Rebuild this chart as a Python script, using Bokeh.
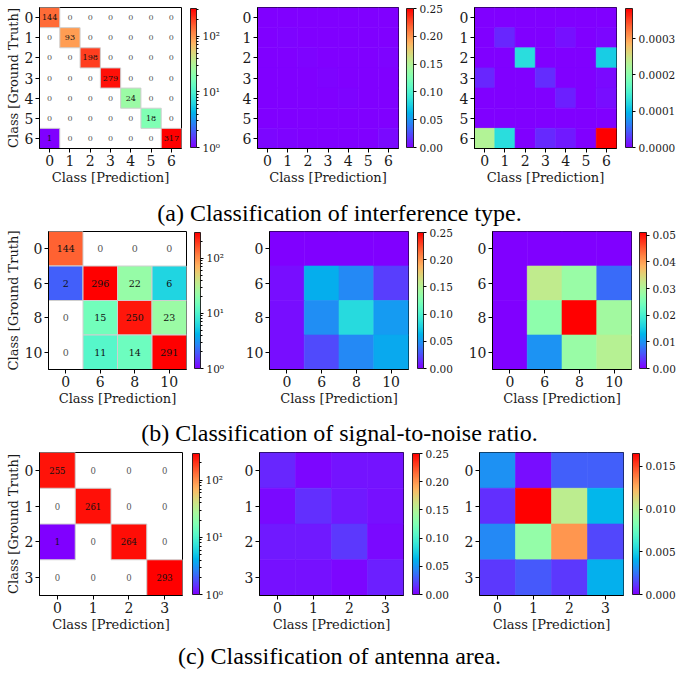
import math
from bokeh.plotting import figure
from bokeh.layouts import row, column
from bokeh.models import (FactorRange, ColumnDataSource, LinearColorMapper, LogColorMapper,
                          ColorBar, FixedTicker, PrintfTickFormatter, Range1d)
from bokeh.transform import transform
from bokeh.core.properties import value
from bokeh.embed import file_html
from bokeh.resources import INLINE

# ---------------- data ----------------
a_labels = ["0", "1", "2", "3", "4", "5", "6"]
a_counts = [
    [144, 0, 0, 0, 0, 0, 0],
    [0, 93, 0, 0, 0, 0, 0],
    [0, 0, 198, 0, 0, 0, 0],
    [0, 0, 0, 279, 0, 0, 0],
    [0, 0, 0, 0, 24, 0, 0],
    [0, 0, 0, 0, 0, 18, 0],
    [1, 0, 0, 0, 0, 0, 317],
]
a_mid = [
    [0.000, 0.000, 0.000, 0.000, 0.000, 0.000, 0.000],
    [0.000, 0.001, 0.000, 0.000, 0.000, 0.000, 0.000],
    [0.000, 0.000, 0.001, 0.000, 0.000, 0.000, 0.001],
    [0.000, 0.000, 0.000, 0.001, 0.000, 0.000, 0.000],
    [0.000, 0.000, 0.000, 0.000, 0.001, 0.000, 0.000],
    [0.000, 0.000, 0.000, 0.000, 0.000, 0.000, 0.000],
    [0.002, 0.001, 0.000, 0.000, 0.000, 0.000, 0.003],
]
a_right = [
    [0.0, 0.0, 0.0, 0.0, 0.0, 0.0, 0.0],
    [0.0, 0.18e-4, 0.0, 0.0, 0.08e-4, 0.0, 0.03e-4],
    [0.0, 0.0, 1.28e-4, 0.0, 0.0, 0.0, 1.15e-4],
    [0.18e-4, 0.0, 0.0, 0.22e-4, 0.0, 0.0, 0.05e-4],
    [0.0, 0.0, 0.0, 0.0, 0.15e-4, 0.0, 0.06e-4],
    [0.0, 0.0, 0.0, 0.0, 0.0, 0.0, 0.0],
    [2.30e-4, 1.28e-4, 0.0, 0.20e-4, 0.12e-4, 0.0, 3.83e-4],
]

b_labels = ["0", "6", "8", "10"]
b_counts = [
    [144, 0, 0, 0],
    [2, 296, 22, 6],
    [0, 15, 250, 23],
    [0, 11, 14, 291],
]
b_mid = [
    [0.000, 0.000, 0.000, 0.000],
    [0.004, 0.060, 0.045, 0.020],
    [0.004, 0.047, 0.082, 0.052],
    [0.004, 0.024, 0.045, 0.058],
]
b_right = [
    [0.000, 0.000, 0.000, 0.000],
    [0.000, 0.032, 0.028, 0.007],
    [0.000, 0.027, 0.051, 0.029],
    [0.000, 0.010, 0.028, 0.031],
]

c_labels = ["0", "1", "2", "3"]
c_counts = [
    [255, 0, 0, 0],
    [0, 261, 0, 0],
    [1, 0, 264, 0],
    [0, 0, 0, 293],
]
c_mid = [
    [0.012, 0.002, 0.006, 0.006],
    [0.003, 0.015, 0.008, 0.005],
    [0.008, 0.008, 0.018, 0.003],
    [0.005, 0.005, 0.002, 0.010],
]
c_right = [
    [0.0032, 0.0003, 0.0020, 0.0020],
    [0.0010, 0.0165, 0.0102, 0.0042],
    [0.0030, 0.0089, 0.0132, 0.0015],
    [0.0012, 0.0019, 0.0012, 0.0040],
]

captions = [
    "(a) Classification of interference type.",
    "(b) Classification of signal-to-noise ratio.",
    "(c) Classification of antenna area.",
]

# --------------- styling helpers ---------------
def rainbow(n=256):
    pal = []
    for i in range(n):
        x = i / (n - 1)
        r = min(1.0, abs(2 * x - 0.5))
        g = max(0.0, math.sin(math.pi * x))
        b = max(0.0, math.cos(math.pi * x / 2))
        pal.append("#%02x%02x%02x" % (round(r * 255), round(g * 255), round(b * 255)))
    return pal

PAL = rainbow()
SERIF = "DejaVu Serif"


def style_axes(p, ylabel):
    p.grid.visible = False
    p.outline_line_color = "black"
    p.outline_line_width = 1
    p.outline_line_alpha = 1
    for ax in (p.xaxis, p.yaxis):
        ax.major_label_text_font = SERIF
        ax.major_label_text_font_size = "14px"
        ax.major_label_text_color = "#1a1a1a"
        ax.major_tick_out = 4
        ax.major_tick_in = 0
        ax.minor_tick_out = 0
        ax.minor_tick_in = 0
        ax.axis_line_color = "black"
        ax.major_tick_line_color = "black"
        ax.major_label_standoff = 2
        ax.axis_label_text_font = SERIF
        ax.axis_label_text_font_size = "13px"
        ax.axis_label_text_font_style = "normal"
        ax.axis_label_text_color = "#1a1a1a"
        ax.axis_label_standoff = 1
    p.xaxis.axis_label = "Class [Prediction]"
    if ylabel:
        p.yaxis.axis_label = "Class [Ground Truth]"


def make_panel(mat, labels, kind, vmax, ticks, fmt, fw, fh, bl, br, bt, bb, ylabel,
               gap=9, barw=7, minor=None, overrides=None, ann_size="8.5px"):
    n = len(labels)
    p = figure(width=bl + fw + br, height=bt + fh + bb,
               x_range=FactorRange(factors=labels),
               y_range=FactorRange(factors=labels[::-1]),
               output_backend="svg", toolbar_location=None,
               min_border_left=bl, min_border_right=br,
               min_border_top=bt, min_border_bottom=bb)
    xs, ys, vs = [], [], []
    for i in range(n):
        for j in range(n):
            v = mat[i][j]
            if kind == "log" and v <= 0:
                continue
            xs.append(labels[j]); ys.append(labels[i]); vs.append(v)
    if kind == "log":
        mapper = LogColorMapper(palette=PAL, low=1, high=vmax)
    else:
        mapper = LinearColorMapper(palette=PAL, low=0, high=vmax)
    src = ColumnDataSource(dict(x=xs, y=ys, v=vs))
    if kind == "log":
        p.rect(x="x", y="y", width=1, height=1, source=src,
               fill_color=transform("v", mapper), line_color="#cfcfcf", line_width=1)
        tx, ty, tt, tc = [], [], [], []
        for i in range(n):
            for j in range(n):
                tx.append(labels[j]); ty.append(labels[i]); tt.append(str(mat[i][j]))
                tc.append("#111111" if mat[i][j] > 0 else "#555555")
        tsrc = ColumnDataSource(dict(x=tx, y=ty, t=tt, c=tc))
        p.text(x="x", y="y", text="t", source=tsrc, text_color="c",
               text_align="center", text_baseline="middle",
               text_font=value(SERIF), text_font_size=ann_size)
    else:
        p.rect(x="x", y="y", width=1, height=1, source=src,
               fill_color=transform("v", mapper), line_color=transform("v", mapper),
               line_width=0.6)
    style_axes(p, ylabel)

    ticker = FixedTicker(ticks=ticks, minor_ticks=minor or [])
    cb = ColorBar(color_mapper=mapper, ticker=ticker,
                  formatter=PrintfTickFormatter(format=fmt),
                  width=barw, height=fh - 2, padding=0, margin=0,
                  location=(fw + gap, 1),
                  major_tick_in=0, major_tick_out=3,
                  minor_tick_in=0, minor_tick_out=2 if minor else 0,
                  major_tick_line_color="black",
                  minor_tick_line_color="black" if minor else None,
                  bar_line_color="black", bar_line_width=0.8,
                  major_label_text_font=SERIF, major_label_text_font_size="10.5px",
                  major_label_text_color="#1a1a1a",
                  label_standoff=3, background_fill_alpha=0, border_line_color=None)
    if overrides:
        cb.major_label_overrides = overrides
    p.add_layout(cb)
    return p


def caption(text, h, frac):
    c = figure(width=678, height=h, x_range=Range1d(0, 1), y_range=Range1d(0, 1),
               output_backend="svg", toolbar_location=None,
               min_border_left=0, min_border_right=0, min_border_top=0, min_border_bottom=0)
    c.axis.visible = False
    c.grid.visible = False
    c.outline_line_color = None
    c.text(x=[0.5], y=[frac], text=[text], text_align="center", text_baseline="middle",
           text_font=value("Liberation Serif"), text_font_size="24px", text_color="black")
    return c


LOG_TICKS = [1, 10, 100]
LOG_MINOR = [2, 3, 4, 5, 6, 7, 8, 9, 20, 30, 40, 50, 60, 70, 80, 90, 200, 300]
LOG_LABELS = {1: "10\u2070", 10: "10\u00b9", 100: "10\u00b2"}
MID_TICKS = [0.0, 0.05, 0.10, 0.15, 0.20, 0.25]

# row a  (fw, fh, left, right, top, bottom)
a1 = make_panel(a_counts, a_labels, "log", max(max(r) for r in a_counts), LOG_TICKS, "%d",
                142, 141, 39, 52, 7, 40, True, gap=9, barw=6,
                minor=LOG_MINOR, overrides=LOG_LABELS, ann_size="8px")
a2 = make_panel(a_mid, a_labels, "lin", 0.25, MID_TICKS, "%.2f",
                141, 141, 24, 52, 7, 40, False, gap=8, barw=7)
a3 = make_panel(a_right, a_labels, "lin", max(max(r) for r in a_right),
                [0.0, 0.0001, 0.0002, 0.0003], "%.4f",
                142, 141, 24, 62, 7, 40, False, gap=9, barw=7)

# row b
b1 = make_panel(b_counts, b_labels, "log", max(max(r) for r in b_counts), LOG_TICKS, "%d",
                138, 138, 48, 55, 5, 40, True, gap=8, barw=6,
                minor=LOG_MINOR, overrides=LOG_LABELS, ann_size="9.5px")
b2 = make_panel(b_mid, b_labels, "lin", 0.25, MID_TICKS, "%.2f",
                139, 138, 28, 56, 5, 40, False, gap=9, barw=6)
b3 = make_panel(b_right, b_labels, "lin", max(max(r) for r in b_right),
                [0.0, 0.01, 0.02, 0.03, 0.04, 0.05], "%.2f",
                139, 138, 28, 47, 5, 40, False, gap=8, barw=7)

# row c
c1 = make_panel(c_counts, c_labels, "log", max(max(r) for r in c_counts), LOG_TICKS, "%d",
                143, 143, 39, 51, 5, 39, True, gap=10, barw=7,
                minor=LOG_MINOR, overrides=LOG_LABELS, ann_size="8.5px")
c2 = make_panel(c_mid, c_labels, "lin", 0.25, MID_TICKS, "%.2f",
                144, 143, 26, 50, 5, 39, False, gap=9, barw=7)
c3 = make_panel(c_right, c_labels, "lin", max(max(r) for r in c_right),
                [0.0, 0.005, 0.010, 0.015], "%.3f",
                144, 143, 26, 55, 5, 39, False, gap=9, barw=7)

layout = column(
    row(a1, a2, a3),
    caption(captions[0], 38, 0.368),
    row(b1, b2, b3),
    caption(captions[1], 38, 0.37),
    row(c1, c2, c3),
    caption(captions[2], 38, 0.447),
)

open("out.html", "w").write(file_html(layout, INLINE))
